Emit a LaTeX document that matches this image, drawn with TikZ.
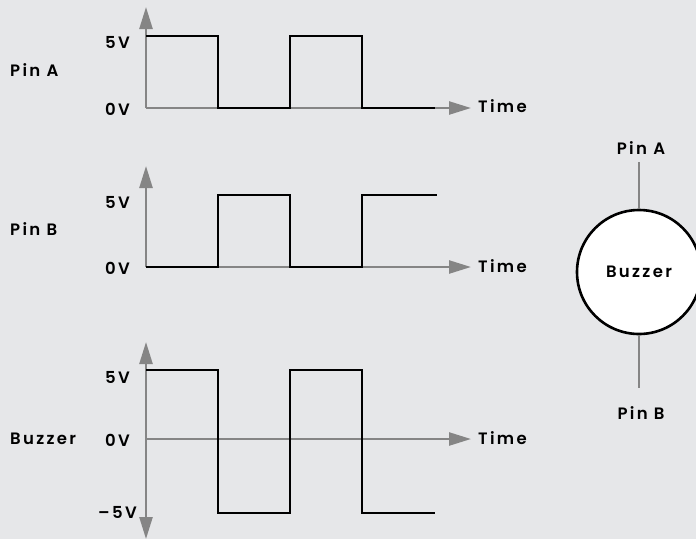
\documentclass[tikz,border=0pt]{standalone}
\usepackage{fontspec}
\setmainfont{Poppins}[UprightFont=*-SemiBold,LetterSpace=14]
\usetikzlibrary{positioning,arrows.meta,calc}
\definecolor{bgcol}{HTML}{E6E7E9}
\definecolor{axiscol}{HTML}{858585}

\begin{document}
\begin{tikzpicture}[
x=1pt,y=-1pt,
axis/.style={axiscol,line width=2.4pt,-{Triangle[length=22pt,width=13pt]}},
signal/.style={black,line width=2.6pt,line join=miter},
lbl/.style={font=\fontsize{16.5}{18}\selectfont,inner sep=0pt},
wire/.style={axiscol,line width=2.4pt},
part/.style={circle,draw,fill=white,line width=2.6pt,minimum size=124pt,inner sep=0pt}
]
\fill[bgcol] (0,0) rectangle (696,539);
\useasboundingbox (0,0) rectangle (696,539);

% Pin A
\coordinate (oa) at (146,108);
\coordinate (ta) at (146,7);
\coordinate (ea) at (471,108);
\draw[axis] (oa) -- (ta);
\draw[axis] (oa) -- (ea);
\draw[signal] (146,36) -- (218,36) -- (218,108) -- (290,108) -- (290,36) -- (362,36) -- (362,108) -- (435,108);
\node[lbl,anchor=west] (pina) at (10,70) {Pin A};
\node[lbl,anchor=east] (hia) at (130,42) {5V};
\node[lbl,anchor=east] (loa) at (130,109) {0V};
\node[lbl,anchor=west] (tima) at (478,106) {Time};

% Pin B
\coordinate (ob) at (146,267);
\coordinate (tb) at (146,166);
\coordinate (eb) at (471,267);
\draw[axis] (ob) -- (tb);
\draw[axis] (ob) -- (eb);
\draw[signal] (146,267) -- (218,267) -- (218,195) -- (290,195) -- (290,267) -- (362,267) -- (362,195) -- (437,195);
\node[lbl,anchor=west] (pinb) at (10,229) {Pin B};
\node[lbl,anchor=east] (hib) at (130,202) {5V};
\node[lbl,anchor=east] (lob) at (130,268) {0V};
\node[lbl,anchor=west] (timb) at (478,266) {Time};

% Buzzer
\coordinate (oc) at (146,439);
\coordinate (tc) at (146,342);
\coordinate (dc) at (146,539);
\coordinate (ec) at (471,439);
\draw[axis] (oc) -- (tc);
\draw[axis] (oc) -- (dc);
\draw[axis] (oc) -- (ec);
\draw[signal] (146,370) -- (218,370) -- (218,513) -- (290,513) -- (290,370) -- (362,370) -- (362,513) -- (435,513);
\node[lbl,anchor=west] (buz) at (10,439) {Buzzer};
\node[lbl,anchor=east] (hic) at (130,377) {5V};
\node[lbl,anchor=east] (loc) at (130,440) {0V};
\node[lbl,anchor=east] (neg) at (137,512) {–5V};
\node[lbl,anchor=west] (timc) at (478,438) {Time};

% buzzer part
\node[part] (bz) at (639,272) {};
\node[lbl] at (bz) {Buzzer};
\node[lbl] (pa) at (641,148) {Pin A};
\node[lbl] (pb) at (641,413) {Pin B};
\coordinate (wa) at (bz.north |- 0,162);
\coordinate (wb) at (bz.south |- 0,388);
\draw[wire] (wa) -- (bz.north);
\draw[wire] (bz.south) -- (wb);
\end{tikzpicture}
\end{document}
